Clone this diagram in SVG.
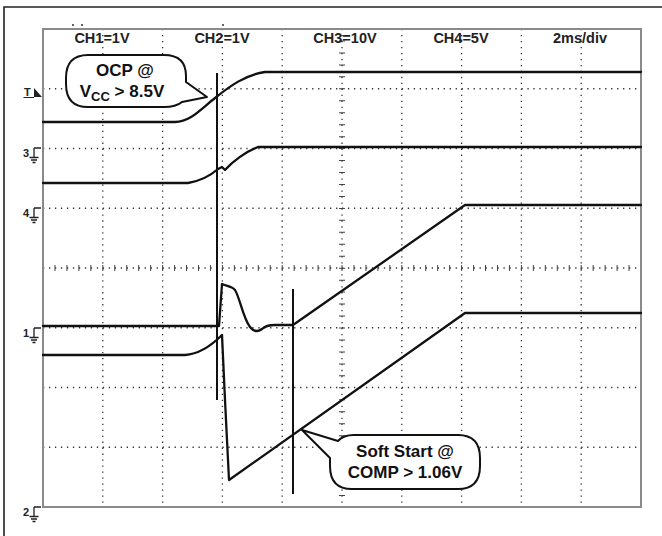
<svg xmlns="http://www.w3.org/2000/svg" width="662" height="536" viewBox="0 0 662 536">
<defs>
<style>
.frame{fill:none;stroke:#222;stroke-width:1.6}
.border{fill:none;stroke:#8a8a8a;stroke-width:2}
.dot{fill:none;stroke:#333;stroke-width:1.3;stroke-dasharray:1.3 4.68}
.tick{fill:none;stroke:#444;stroke-width:6;stroke-dasharray:1 10.96}
.trace{fill:none;stroke:#111;stroke-width:2.3;stroke-linejoin:round;stroke-linecap:round}
.cursor{fill:none;stroke:#111;stroke-width:2}
.hdr{font-family:"Liberation Sans",Arial,sans-serif;font-weight:bold;font-size:14.5px;fill:#222;text-anchor:middle}
.co{fill:#fff;stroke:#111;stroke-width:2;stroke-linejoin:round}
.cot{font-family:"Liberation Sans",Arial,sans-serif;font-weight:bold;font-size:17px;fill:#111;text-anchor:middle}
.mk{font-family:"Liberation Sans",Arial,sans-serif;font-weight:bold;font-size:11px;fill:#222}
.gnd{fill:none;stroke:#222;stroke-width:1.3}
</style>
<g id="gsym">
<path class="gnd" d="M34,0 H41 M34,0 V9 M29.5,9.5 H38.5 M31,12 H37 M32.5,14.5 H35.5"/>
</g>
</defs>
<rect width="662" height="536" fill="#fff"/>
<path class="frame" d="M4,536 V7 H662"/>
<g id="graticule">
<path class="dot" d="M102.8,29V507 M162.6,29V507 M222.4,29V507 M282.2,29V507 M342,29V507 M401.8,29V507 M461.6,29V507 M521.4,29V507 M581.2,29V507"/>
<path class="dot" d="M43,88.75H641 M43,148.5H641 M43,208.25H641 M43,268H641 M43,327.75H641 M43,387.5H641 M43,447.25H641"/>
<path class="tick" d="M42.5,268H641"/>
<path class="tick" d="M342,28.5V507"/>
<rect class="border" x="43" y="29" width="598" height="478"/>
<path d="M72,25h2 M81,25h2 M222,25h2" stroke="#333" stroke-width="1.3"/>
</g>
<g id="header">
<text class="hdr" x="102" y="43">CH1=1V</text>
<text class="hdr" x="222" y="43">CH2=1V</text>
<text class="hdr" x="345" y="43">CH3=10V</text>
<text class="hdr" x="461" y="43">CH4=5V</text>
<text class="hdr" x="580" y="43">2ms/div</text>
</g>
<g id="markers">
<g id="trig"><text class="mk" x="24" y="96">T</text><path d="M23.5,97.5H34" stroke="#222" stroke-width="1"/><polygon points="34,88 42,97 34,97" fill="#222"/></g>
<g id="m3"><text class="mk" x="23" y="157">3</text><use href="#gsym" y="148"/></g>
<g id="m4"><text class="mk" x="23" y="217">4</text><use href="#gsym" y="208"/></g>
<g id="m1"><text class="mk" x="23" y="337">1</text><use href="#gsym" y="328"/></g>
<g id="m2"><text class="mk" x="23" y="516">2</text><use href="#gsym" y="507"/></g>
</g>
<g id="connectors">
<path id="ch1" class="trace" d="M43,122 H175 C190,122 200,110 215,98 C230,86 245,75 265,72 H641"/>
<path id="ch3" class="trace" d="M43,183 H188 C200,181 210,176 218,169 L222,167 L225,170 C232,162 245,152 258,147 H641"/>
<path id="ch4" class="trace" d="M43,326 H219 L222,284 C226,286 232,286 235,290 C240,298 243,318 250,327 C254,332 258,332 262,329 C265,326 268,325 275,325 H293 L465,205 H641"/>
<path id="ch2" class="trace" d="M43,355 H185 C200,354 212,345 222,335 L225,400 L229,480 L465,313 H641"/>
<path id="cursor1" class="cursor" d="M217,73 V400"/>
<path id="cursor2" class="cursor" d="M293,289 V494"/>
</g>
<g id="callout-ocp">
<path class="co" d="M88,55 H164 Q186,55 186,76 V82 L207,97 L182,102 Q176,107 164,107 H88 Q66,107 66,84 V78 Q66,55 88,55 Z"/>
<text class="cot" x="125" y="76">OCP @</text>
<text class="cot" x="122" y="97">V<tspan font-size="13" dy="4">CC</tspan><tspan dy="-4"> &gt; 8.5V</tspan></text>
</g>
<g id="callout-ss">
<path class="co" d="M302,430 L338,441 Q343,435 354,435 H458 Q480,435 480,458 V466 Q480,489 458,489 H352 Q330,489 330,466 V458 Z"/>
<text class="cot" x="405" y="457">Soft Start @</text>
<text class="cot" x="405" y="478">COMP &gt; 1.06V</text>
</g>
</svg>
